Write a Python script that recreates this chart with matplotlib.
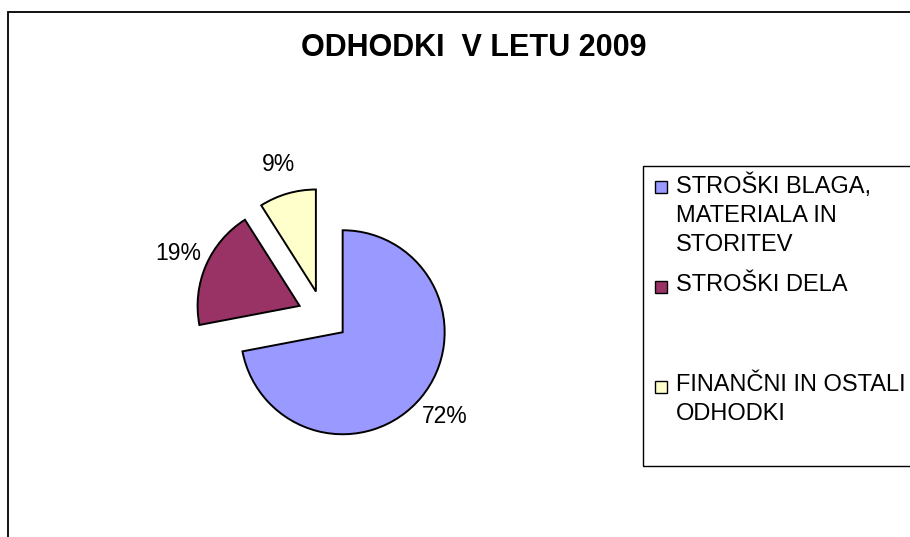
import matplotlib
matplotlib.use("Agg")
import matplotlib.pyplot as plt
from matplotlib.patches import Rectangle

plt.rcParams['font.family'] = ['Liberation Sans', 'DejaVu Sans']

# data
categories = ["STROŠKI BLAGA,\nMATERIALA IN\nSTORITEV", "STROŠKI DELA", "FINANČNI IN OSTALI\nODHODKI"]
shares = [72, 19, 9]
colors = ['#9999FF', '#993366', '#FFFFCC']
title = "ODHODKI  V LETU 2009"

W, H = 910, 537


def fx(px):
    return px / W


def fy(py):
    return 1 - py / H


fig = plt.figure(figsize=(W / 100, H / 100), dpi=100)

# chart area border (only top and left visible in the crop)
fig.add_artist(Rectangle((fx(8), -0.2), 2, fy(12) + 0.2, transform=fig.transFigure,
                         fill=False, edgecolor='black', linewidth=1.3))

fig.text(fx(474), fy(48), title, ha='center', va='center', fontsize=22, fontweight='bold')

# pie, radius 102 px around (323, 316)
R = 102
cx, cy = 323, 316
L = 2.0
ax = fig.add_axes([fx(cx - L * R), fy(cy + L * R), 2 * L * R / W, 2 * L * R / H])
wedges, texts, autotexts = ax.pie(shares, colors=colors, startangle=90, counterclock=False,
                                  explode=[0.25] * len(shares), autopct='%1.0f%%', pctdistance=1.3,
                                  wedgeprops=dict(edgecolor='black', linewidth=1.4),
                                  textprops=dict(fontsize=16.5, color='black'))
ax.set_xlim(-L, L)
ax.set_ylim(-L, L)
ax.set_aspect('equal')
ax.axis('off')

# legend box, drawn like the Excel one (entries top-aligned in equal slots)
top, bottom, left = 166, 466, 643
fig.add_artist(Rectangle((fx(left), fy(bottom)), 2, fy(top) - fy(bottom), transform=fig.transFigure,
                         fill=False, edgecolor='black', linewidth=1.0))
slot = (bottom - top) / len(categories)
for i, (lab, col) in enumerate(zip(categories, colors)):
    y0 = top + i * slot + 21
    fig.add_artist(Rectangle((fx(655), fy(y0 + 6)), 12 / W, 12 / H, transform=fig.transFigure,
                             facecolor=col, edgecolor='black', linewidth=1.0))
    fig.text(fx(676), fy(y0 - 13), lab, ha='left', va='top', fontsize=17, linespacing=1.4)

fig.savefig('out.png', dpi=100)
